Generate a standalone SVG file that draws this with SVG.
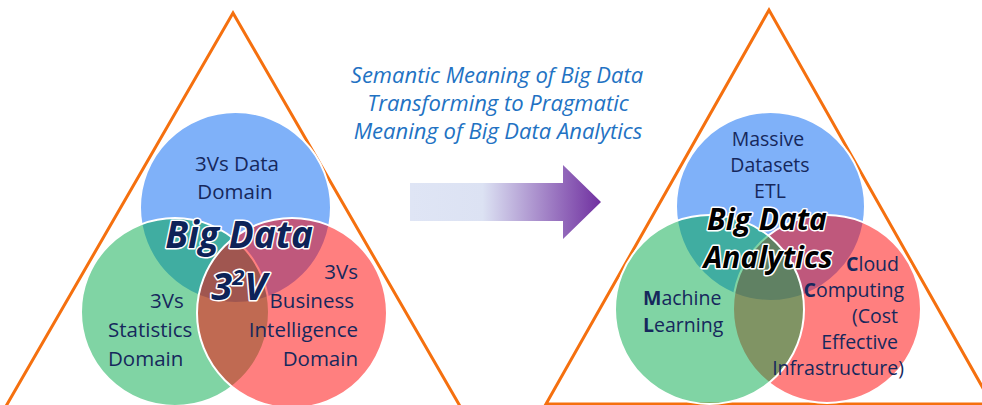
<svg xmlns="http://www.w3.org/2000/svg" width="982" height="405" viewBox="0 0 982 405">
<defs>
<linearGradient id="arrowGrad" x1="410" y1="0" x2="601" y2="0" gradientUnits="userSpaceOnUse">
<stop offset="0" stop-color="#DFE5F5"/>
<stop offset="0.38" stop-color="#DCE2F3"/>
<stop offset="1" stop-color="#7030A0"/>
</linearGradient>
</defs>
<style>
.tri{fill:none;stroke:#F5700F;stroke-width:3;stroke-linejoin:miter}
.cb{fill:#7FB1F9;stroke:#fff;stroke-width:2}
.cg{fill:#01A949;fill-opacity:0.5;stroke:#fff;stroke-width:2}
.cr{fill:#FF0000;fill-opacity:0.5;stroke:#fff;stroke-width:2}
.t{font-family:"Open Sans","Liberation Sans",sans-serif;font-size:20.5px;fill:#16285C}
.r{font-size:19.5px}
.m{text-anchor:middle}
.e{text-anchor:end}
.big{font-family:"Open Sans","Liberation Sans",sans-serif;font-weight:bold;font-style:italic;stroke:#fff;stroke-width:3;paint-order:stroke;stroke-linejoin:round;text-anchor:middle}
.title{font-family:"Open Sans","Liberation Sans",sans-serif;font-style:italic;font-size:22px;fill:#2272C3;text-anchor:middle}
</style>
<g id="left-triangle"><polygon class="tri" points="233,13 -2,420 468,420"/></g>
<g id="right-triangle"><polygon class="tri" points="769,10 546,404 992,404"/></g>
<g id="left-venn">
<circle id="data-domain" class="cb" cx="235.5" cy="207.5" r="95.5"/>
<circle id="statistics-domain" class="cg" cx="175" cy="312" r="94"/>
<circle id="bi-domain" class="cr" cx="292" cy="313" r="95"/>
</g>
<g id="right-venn">
<circle id="massive-datasets" class="cb" cx="770.5" cy="206.5" r="94.5"/>
<circle id="cloud-computing" class="cr" cx="827" cy="309" r="94"/>
<circle id="machine-learning" class="cg" cx="709.5" cy="309.5" r="94.5"/>
</g>
<g id="left-labels">
<text class="t m" x="237" y="171">3Vs Data</text>
<text class="t m" x="235" y="199">Domain</text>
<text class="t" x="150" y="308">3Vs</text>
<text class="t" x="108" y="337">Statistics</text>
<text class="t" x="108" y="366">Domain</text>
<text class="t e" x="358" y="279">3Vs</text>
<text class="t e" x="354" y="308">Business</text>
<text class="t e" x="358" y="337">Intelligence</text>
<text class="t e" x="358" y="366">Domain</text>
<text class="big" x="239" y="248" font-size="37" fill="#0D2358">Big Data</text>
<text class="big" x="239" y="300" font-size="38" fill="#0D2358">3<tspan font-size="22" dy="-15">2</tspan><tspan dy="15">V</tspan></text>
</g>
<g id="right-labels">
<text class="t r m" x="768" y="146">Massive</text>
<text class="t r m" x="770" y="172">Datasets</text>
<text class="t r m" x="770" y="198">ETL</text>
<text class="big" x="767" y="230" font-size="30" fill="#000">Big Data</text>
<text class="big" x="768" y="268" font-size="30" fill="#000">Analytics</text>
<text class="t r" x="643" y="305"><tspan font-weight="bold">M</tspan>achine</text>
<text class="t r" x="643" y="332"><tspan font-weight="bold">L</tspan>earning</text>
<text class="t r e" x="899" y="271"><tspan font-weight="bold">C</tspan>loud</text>
<text class="t r e" x="904" y="297"><tspan font-weight="bold">C</tspan>omputing</text>
<text class="t r e" x="898" y="323">(Cost</text>
<text class="t r e" x="898" y="349">Effective</text>
<text class="t r e" x="904" y="375">Infrastructure)</text>
</g>
<g id="caption">
<text class="title" x="497" y="83">Semantic Meaning of Big Data</text>
<text class="title" x="498" y="111">Transforming to Pragmatic</text>
<text class="title" x="498" y="139">Meaning of Big Data Analytics</text>
</g>
<g id="connectors">
<polygon id="transform-arrow" points="410,183 563,183 563,165 601,202 563,239 563,221 410,221" fill="url(#arrowGrad)"/>
</g>
</svg>
